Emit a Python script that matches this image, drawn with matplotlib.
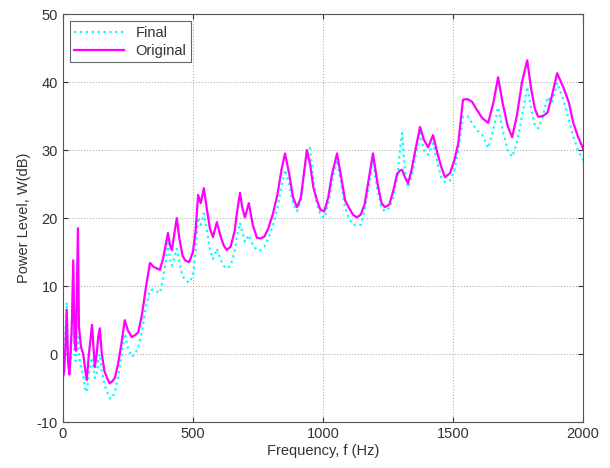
import matplotlib
matplotlib.use("Agg")
import matplotlib.pyplot as plt

plt.rcParams['font.family'] = ['Liberation Sans', 'DejaVu Sans']
plt.rcParams['axes.unicode_minus'] = False

freq = [0, 5, 10, 15, 20, 25, 30, 35, 40, 45, 50, 55, 58, 62, 70, 78, 85, 92, 100, 106,
        112, 118, 123, 130, 136, 142, 150, 160, 170, 180, 190, 200, 212, 225, 238, 250,
        265, 278, 290, 305, 320, 335, 350, 362, 373, 385, 395, 404, 412, 419, 428, 438,
        448, 460, 470, 485, 500, 510, 520, 530, 542, 555, 565, 577, 592, 605, 618, 630,
        645, 660, 670, 681, 690, 700, 715, 730, 746, 760, 775, 790, 808, 825, 840, 854,
        870, 885, 900, 915, 925, 938, 950, 963, 977, 990, 1005, 1020, 1035, 1054, 1070,
        1085, 1100, 1115, 1130, 1145, 1160, 1175, 1192, 1210, 1225, 1238, 1255, 1270,
        1285, 1296, 1304, 1315, 1327, 1340, 1355, 1373, 1388, 1404, 1423, 1440, 1455,
        1469, 1488, 1505, 1520, 1538, 1555, 1573, 1590, 1612, 1635, 1655, 1673, 1690,
        1710, 1727, 1745, 1765, 1785, 1800, 1815, 1827, 1845, 1863, 1880, 1900, 1923,
        1945, 1962, 1980, 2000]

original = [-3.5, -2.5, 1.0, 6.5, -1.0, -3.0, 0, 5, 13.8, 2, 0.5, 12, 18.5, 4, 1.0, 0.1,
            -2, -3.8, 0, 2, 4.3, 1, -1.9, 0, 2.5, 3.8, 0, -2.5, -3.5, -4.3, -4.0, -3.5,
            -1.5, 1.5, 5.0, 3.5, 2.5, 2.8, 3.2, 6, 10, 13.4, 12.8, 12.6, 12.4, 14, 16,
            17.8, 16, 15.3, 17.5, 20.0, 17, 14.5, 13.8, 13.5, 15.0, 18, 23.4, 22.2, 24.4,
            21, 18.5, 17.2, 19.4, 17.5, 16, 15.3, 15.8, 18, 21, 23.7, 21.5, 20.1, 22.2,
            19, 17.1, 17.0, 17.3, 18.5, 20.7, 23.5, 27, 29.5, 26.5, 23, 21.6, 23, 26,
            30.0, 28, 24.5, 22.6, 21.2, 21, 23, 26.5, 29.5, 26, 22.6, 21.5, 20.5, 20.1,
            20.5, 22, 25.5, 29.5, 25, 22.2, 21.6, 22, 24, 26.5, 27, 27.1, 26, 25.1, 27,
            30, 33.4, 31.5, 30.4, 32.2, 29.5, 27.5, 26.0, 26.6, 28.5, 31, 37.4, 37.5,
            37.1, 36, 34.7, 34.0, 37, 40.7, 37, 33.5, 31.9, 35, 40, 43.2, 39, 36, 34.9,
            35, 35.5, 38, 41.3, 39.3, 37, 34.0, 32, 30.2]

final = [-4, -2, 3, 7.6, 2, -2, -1, 3, 7, 0, -1, 1, 2.5, 0, -2, -3, -5, -5.6, -3, -1.5,
         -0.5, -2, -3.5, -3, -1, 0, -2.5, -4.5, -5.5, -6.5, -6.5, -5.5, -3.5, -0.5, 3,
         1, -0.4, 0, 1, 3.5, 7, 9.4, 9.5, 9.2, 9.0, 11, 13.5, 16.3, 14, 13, 14, 15.5,
         13.5, 11.5, 10.9, 10.5, 11.5, 15, 20.1, 19, 20.7, 18, 15.5, 14, 15.5, 14, 13,
         12.6, 13, 15, 17.5, 19.3, 18, 16.5, 17.5, 16, 15.3, 15.3, 15.8, 17, 19, 21.5,
         24.5, 27.1, 25, 22, 21, 22.5, 26, 29.5, 30.3, 25.5, 22, 20.5, 20, 22, 25.5,
         28.5, 25, 21.5, 20, 19, 19.0, 19, 21, 24.5, 28.5, 24, 21.5, 21, 21.5, 23, 26,
         30, 32.5, 27, 24.5, 26, 29, 32.5, 30, 29.3, 31, 28, 26, 25.3, 25.5, 27, 30,
         34.9, 35, 34, 33, 32.2, 30.3, 33, 36.3, 33, 30, 29.0, 31, 35, 39.3, 36, 33.5,
         33.2, 35, 37.8, 37, 39.9, 37.5, 34.5, 32, 30, 28.5]

fig = plt.figure(figsize=(6.1, 4.68), dpi=100)
ax = fig.add_axes([0.103, 0.098, 0.853, 0.872])

ax.plot(freq, final, color='cyan', linestyle=':', linewidth=1.6, label='Final')
ax.plot(freq, original, color='magenta', linestyle='-', linewidth=1.6, label='Original')

ax.set_xlim(0, 2000)
ax.set_ylim(-10, 50)
ax.set_xticks([0, 500, 1000, 1500, 2000])
ax.set_yticks(range(-10, 51, 10))
ax.grid(True, linestyle=':', color='#b0b0b0', linewidth=0.8)
ax.tick_params(direction='in', top=True, right=True, labelsize=10.5, colors='#333333')
for s in ax.spines.values():
    s.set_color('#555555')

ax.set_xlabel("Frequency, f (Hz)", fontsize=10.5, color='#333333', labelpad=2)
ax.set_ylabel("Power Level, W(dB)", fontsize=10.5, color='#333333')

leg = ax.legend(loc='upper left', fontsize=10.5, fancybox=False, framealpha=1,
                edgecolor='#666666', borderaxespad=0.5, handlelength=3.4,
                labelspacing=0.3, borderpad=0.3)
leg.get_frame().set_linewidth(0.8)
for t in leg.get_texts():
    t.set_color('#333333')

fig.savefig("out.png", dpi=100)
